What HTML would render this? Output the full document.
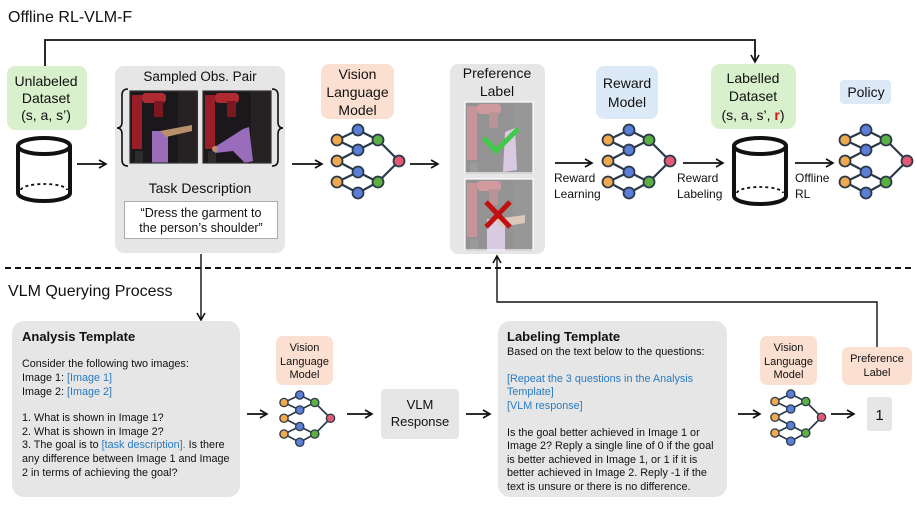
<!DOCTYPE html>
<html><head><meta charset="utf-8"><style>
html,body{margin:0;padding:0;background:#fff;}
svg{display:block;font-family:"Liberation Sans","DejaVu Sans",sans-serif;}
</style></head><body>
<svg width="917" height="505" viewBox="0 0 917 505" xmlns="http://www.w3.org/2000/svg">
<defs>
<marker id="ah" markerWidth="10" markerHeight="10" refX="8" refY="5" orient="auto" markerUnits="userSpaceOnUse">
<path d="M1,1 L8,5 L1,9" fill="none" stroke="#111" stroke-width="1.6"/>
</marker>
<g id="net">
<g stroke="#2b3a4a" stroke-width="2.2" fill="none">
<path d="M0,10 L21,0 M0,10 L21,20 M0,31 L21,20 M0,31 L21,42 M0,52 L21,42 M0,52 L21,63 M21,0 L41,10 M21,20 L41,10 M21,42 L41,52 M21,63 L41,52 M41,10 L62,31 M41,52 L62,31"/>
</g>
<g stroke="#2b3a4a" stroke-width="1.8">
<circle cx="0" cy="10" r="5.5" fill="#f0a94e"/><circle cx="0" cy="31" r="5.5" fill="#f0a94e"/><circle cx="0" cy="52" r="5.5" fill="#f0a94e"/>
<circle cx="21" cy="0" r="5.5" fill="#5b7fd6"/><circle cx="21" cy="20" r="5.5" fill="#5b7fd6"/><circle cx="21" cy="42" r="5.5" fill="#5b7fd6"/><circle cx="21" cy="63" r="5.5" fill="#5b7fd6"/>
<circle cx="41" cy="10" r="5.5" fill="#5cb043"/><circle cx="41" cy="52" r="5.5" fill="#5cb043"/>
<circle cx="62" cy="31" r="5.5" fill="#e35a72"/>
</g>
</g>
<g id="robot">
<rect x="0" y="0" width="68" height="72" fill="#1a181a"/>
<rect x="48" y="0" width="20" height="72" fill="#262223"/>
<rect x="2" y="4" width="10" height="54" fill="#9a1e28"/>
<rect x="12" y="2" width="24" height="10" rx="4" fill="#b02a34"/>
<rect x="24" y="10" width="9" height="16" fill="#7a1820"/>
<rect x="5" y="60" width="8" height="12" fill="#2c2c2c"/>
</g>
</defs>

<text x="8" y="22" font-size="16" fill="#111">Offline RL-VLM-F</text>

<path d="M45,66 L45,40 L755,40 L755,62" fill="none" stroke="#111" stroke-width="1.8" marker-end="url(#ah)"/>

<rect x="7" y="66" width="80" height="64" rx="8" fill="#d8f0cc"/>
<text font-size="14" text-anchor="middle" fill="#111"><tspan x="46" y="86">Unlabeled</tspan><tspan x="46" y="103">Dataset</tspan><tspan x="46" y="120">(s, a, s’)</tspan></text>
<g fill="none" stroke="#111" stroke-width="4">
<ellipse cx="44" cy="146" rx="26" ry="8"/>
<path d="M18,146 L18,193 A26,8 0 0 0 70,193 L70,146"/>
</g>
<path d="M21,190 A23,6 0 0 1 67,190" fill="none" stroke="#111" stroke-width="1.8" stroke-dasharray="3,3"/>
<line x1="77" y1="164" x2="106" y2="164" stroke="#111" stroke-width="1.8" marker-end="url(#ah)"/>

<rect x="115" y="66" width="170" height="187" rx="9" fill="#e6e6e6"/>
<text x="200" y="81" font-size="13.5" text-anchor="middle" fill="#111">Sampled Obs. Pair</text>
<path d="M128,89 Q122,89 122,95 L122,122 Q122,128 117,128 Q122,128 122,134 L122,160 Q122,166 128,166" fill="none" stroke="#111" stroke-width="1.6"/>
<path d="M272,89 Q278,89 278,95 L278,122 Q278,128 283,128 Q278,128 278,134 L278,160 Q278,166 272,166" fill="none" stroke="#111" stroke-width="1.6"/>
<g transform="translate(130,91)"><use href="#robot"/>
<rect x="22" y="40" width="16" height="32" fill="#9a6cbc"/><path d="M30,40 L62,34 L62,40 L36,46Z" fill="#b8906c"/></g>
<g transform="translate(203,91)"><use href="#robot"/>
<path d="M40,38 L46,36 L50,70 L42,72 L30,60 L12,62 L12,56Z" fill="#9a6cbc"/><circle cx="12" cy="58" r="3" fill="#b8906c"/></g>
<rect x="130" y="91" width="67" height="72" fill="none" stroke="#333" stroke-width="1.2"/>
<rect x="203" y="91" width="68" height="72" fill="none" stroke="#333" stroke-width="1.2"/>
<text x="200" y="193" font-size="14" text-anchor="middle" fill="#111">Task Description</text>
<rect x="124.5" y="201.5" width="153" height="37" fill="#fff" stroke="#aaa"/>
<text font-size="12.5" text-anchor="middle" fill="#111"><tspan x="201" y="217">“Dress the garment to</tspan><tspan x="201" y="232">the person’s shoulder”</tspan></text>
<line x1="292" y1="164" x2="322" y2="164" stroke="#111" stroke-width="1.8" marker-end="url(#ah)"/>

<rect x="321" y="64" width="73" height="55" rx="8" fill="#fbe0d2"/>
<text font-size="14" text-anchor="middle" fill="#111"><tspan x="357.5" y="79">Vision</tspan><tspan x="357.5" y="97">Language</tspan><tspan x="357.5" y="115">Model</tspan></text>
<use href="#net" transform="translate(337,130)"/>
<line x1="410" y1="164" x2="438" y2="164" stroke="#111" stroke-width="1.8" marker-end="url(#ah)"/>

<rect x="450" y="64" width="95" height="190" rx="8" fill="#e6e6e6"/>
<text font-size="14" text-anchor="middle" fill="#111"><tspan x="497" y="78">Preference</tspan><tspan x="497" y="96">Label</tspan></text>
<g opacity="0.4"><g transform="translate(465,102)"><use href="#robot"/><path d="M40,30 L50,26 L52,68 L38,70Z" fill="#c8a0dc"/></g>
<g transform="translate(465,179)"><use href="#robot"/><rect x="22" y="40" width="18" height="32" fill="#c8a0dc"/><path d="M30,40 L60,36 L60,44 L36,48Z" fill="#caa07a"/></g></g>
<rect x="465" y="102" width="68" height="71" fill="none" stroke="#fff" stroke-width="1.2"/>
<rect x="465" y="179" width="68" height="71" fill="none" stroke="#fff" stroke-width="1.2"/>
<path d="M484,138 L496,151 L518,129" fill="none" stroke="#3fca4a" stroke-width="5"/>
<path d="M486,202 L510,227 M510,202 L486,227" stroke="#c01010" stroke-width="5"/>

<line x1="555" y1="163" x2="592" y2="163" stroke="#111" stroke-width="1.8" marker-end="url(#ah)"/>
<text font-size="12" fill="#111"><tspan x="554" y="182">Reward</tspan><tspan x="554" y="198">Learning</tspan></text>
<rect x="596" y="66" width="62" height="53" rx="8" fill="#dce9f6"/>
<text font-size="14" text-anchor="middle" fill="#111"><tspan x="627" y="88">Reward</tspan><tspan x="627" y="107">Model</tspan></text>
<use href="#net" transform="translate(608,130)"/>
<line x1="683" y1="163" x2="723" y2="163" stroke="#111" stroke-width="1.8" marker-end="url(#ah)"/>
<text font-size="12" fill="#111"><tspan x="677" y="182">Reward</tspan><tspan x="677" y="198">Labeling</tspan></text>

<rect x="711" y="64" width="85" height="65" rx="9" fill="#d8f0cc"/>
<text font-size="14" text-anchor="middle" fill="#111"><tspan x="753" y="83">Labelled</tspan><tspan x="753" y="101">Dataset</tspan><tspan x="753" y="120">(s, a, s’, <tspan fill="#e01010" font-weight="bold">r</tspan>)</tspan></text>
<g fill="none" stroke="#111" stroke-width="4">
<ellipse cx="760" cy="146" rx="26" ry="8"/>
<path d="M734,146 L734,196 A26,8 0 0 0 786,196 L786,146"/>
</g>
<path d="M737,193 A23,6 0 0 1 783,193" fill="none" stroke="#111" stroke-width="1.8" stroke-dasharray="3,3"/>
<line x1="795" y1="163" x2="833" y2="163" stroke="#111" stroke-width="1.8" marker-end="url(#ah)"/>
<text font-size="12" fill="#111"><tspan x="795" y="182">Offline</tspan><tspan x="795" y="198">RL</tspan></text>
<rect x="840" y="80" width="51" height="24" rx="4" fill="#dce9f6"/>
<text x="866" y="97" font-size="14" text-anchor="middle" fill="#111">Policy</text>
<use href="#net" transform="translate(845,130)"/>

<line x1="5" y1="268" x2="912" y2="268" stroke="#111" stroke-width="2" stroke-dasharray="6,4"/>
<text x="8" y="296" font-size="16" fill="#111">VLM Querying Process</text>

<line x1="201" y1="254" x2="201" y2="320" stroke="#111" stroke-width="1.4" marker-end="url(#ah)"/>
<path d="M877,347 L877,302 L497,302 L497,256" fill="none" stroke="#111" stroke-width="1.4" marker-end="url(#ah)"/>

<rect x="12" y="321" width="228" height="176" rx="12" fill="#e6e6e6"/>
<text x="22" y="341" font-size="13" font-weight="bold" fill="#111">Analysis Template</text>
<text font-size="10.8" fill="#111">
<tspan x="22" y="367">Consider the following two images:</tspan>
<tspan x="22" y="381">Image 1:  <tspan fill="#2a7bc4">[Image 1]</tspan></tspan>
<tspan x="22" y="395">Image 2:  <tspan fill="#2a7bc4">[Image 2]</tspan></tspan>
<tspan x="22" y="421">1. What is shown in Image 1?</tspan>
<tspan x="22" y="435">2. What is shown in Image 2?</tspan>
<tspan x="22" y="448">3. The goal is to <tspan fill="#2a7bc4">[task description].</tspan> Is there</tspan>
<tspan x="22" y="462">any difference between Image 1 and Image</tspan>
<tspan x="22" y="476">2 in terms of achieving the goal?</tspan>
</text>
<line x1="247" y1="414" x2="267" y2="414" stroke="#111" stroke-width="1.8" marker-end="url(#ah)"/>
<rect x="276" y="336" width="57" height="49" rx="7" fill="#fbe0d2"/>
<text font-size="11" text-anchor="middle" fill="#111"><tspan x="304.5" y="351">Vision</tspan><tspan x="304.5" y="365">Language</tspan><tspan x="304.5" y="378">Model</tspan></text>
<use href="#net" transform="translate(284,395) scale(0.75)"/>
<line x1="347" y1="414" x2="372" y2="414" stroke="#111" stroke-width="1.8" marker-end="url(#ah)"/>
<rect x="381" y="389" width="78" height="50" rx="4" fill="#e6e6e6"/>
<text font-size="13" text-anchor="middle" fill="#111"><tspan x="420" y="409">VLM</tspan><tspan x="420" y="426">Response</tspan></text>
<line x1="466" y1="414" x2="490" y2="414" stroke="#111" stroke-width="1.8" marker-end="url(#ah)"/>

<rect x="498" y="321" width="229" height="176" rx="12" fill="#e6e6e6"/>
<text x="507" y="341" font-size="13" font-weight="bold" fill="#111">Labeling Template</text>
<text font-size="10.8" fill="#111">
<tspan x="507" y="355">Based on the text below to the questions:</tspan>
<tspan x="507" y="382" fill="#2a7bc4">[Repeat the 3 questions in the Analysis</tspan>
<tspan x="507" y="395" fill="#2a7bc4">Template]</tspan>
<tspan x="507" y="409" fill="#2a7bc4">[VLM response]</tspan>
<tspan x="507" y="436">Is the goal better achieved in Image 1 or</tspan>
<tspan x="507" y="449">Image 2? Reply a single line of 0 if the goal</tspan>
<tspan x="507" y="463">is better achieved in Image 1, or 1 if it is</tspan>
<tspan x="507" y="476">better achieved in Image 2. Reply -1 if the</tspan>
<tspan x="507" y="490">text is unsure or there is no difference.</tspan>
</text>
<line x1="738" y1="414" x2="760" y2="414" stroke="#111" stroke-width="1.8" marker-end="url(#ah)"/>
<rect x="760" y="336" width="57" height="49" rx="7" fill="#fbe0d2"/>
<text font-size="11" text-anchor="middle" fill="#111"><tspan x="788.5" y="351">Vision</tspan><tspan x="788.5" y="365">Language</tspan><tspan x="788.5" y="378">Model</tspan></text>
<use href="#net" transform="translate(775,394) scale(0.75)"/>
<line x1="831" y1="414" x2="854" y2="414" stroke="#111" stroke-width="1.8" marker-end="url(#ah)"/>
<rect x="842" y="347" width="70" height="38" rx="7" fill="#fbe0d2"/>
<text font-size="11" text-anchor="middle" fill="#111"><tspan x="877" y="362">Preference</tspan><tspan x="877" y="376">Label</tspan></text>
<rect x="867" y="397" width="25" height="34" rx="3" fill="#e6e6e6"/>
<text x="879.5" y="420" font-size="15" text-anchor="middle" fill="#111">1</text>
</svg>
</body></html>
